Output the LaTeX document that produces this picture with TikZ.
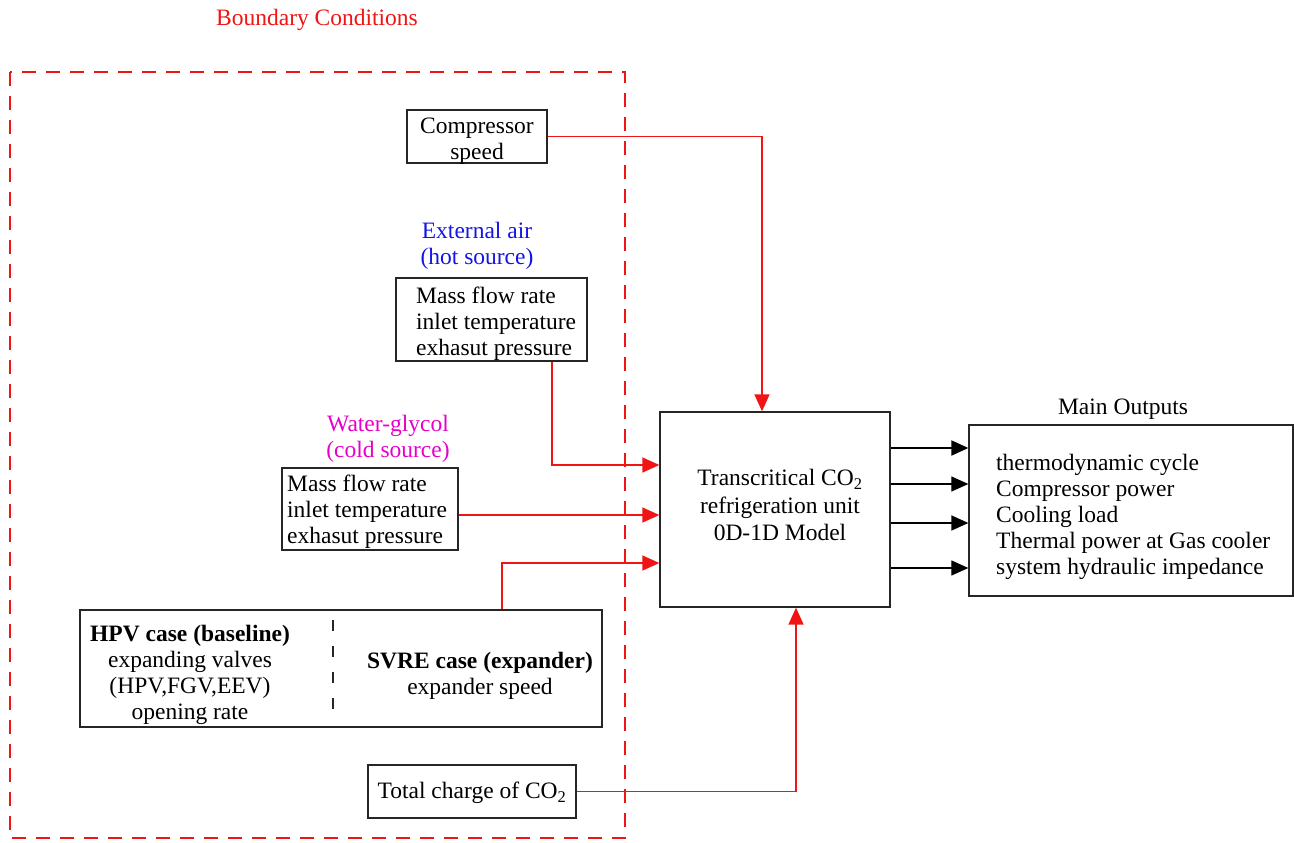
\documentclass[tikz,border=0pt]{standalone}
\usepackage{fontspec}
\setmainfont{Liberation Serif}
\usetikzlibrary{arrows.meta}
\definecolor{bred}{RGB}{240,20,20}
\definecolor{bblue}{RGB}{20,20,230}
\definecolor{bmag}{RGB}{230,0,200}
\tikzset{
  box/.style={draw=black!85, line width=1.3pt, inner sep=0pt},
  txt/.style={inner sep=0pt, align=center, font=\fontsize{23.5}{26}\selectfont},
  ltxt/.style={inner sep=0pt, align=left, font=\fontsize{23.5}{26}\selectfont},
  redarrow/.style={draw=bred, line width=1.5pt, -{Triangle[length=17pt,width=15pt]}},
  blkarrow/.style={draw=black, line width=1.2pt, -{Triangle[length=17pt,width=15pt]}},
}
\begin{document}
\begin{tikzpicture}[x=1pt,y=-1pt, font=\fontsize{23.5}{26}\selectfont]
\useasboundingbox (0,0) rectangle (1294,843);
% boundary
\node[txt, text=bred] (bctitle) at (317,20) {Boundary Conditions};
\draw[bred, line width=1.8pt, dash pattern=on 14pt off 10pt] (10,72) rectangle (625,838);
% boxes
\node[box, minimum width=140pt, minimum height=53pt] (comp) at (477,136.5) {};
\node[txt] (comptxt) at (477,141) {Compressor\\speed};
\node[txt, text=bblue] (airlab) at (477,246) {External air\\(hot source)};
\node[box, minimum width=191pt, minimum height=83pt] (air) at (491.5,319.5) {};
\node[ltxt, anchor=west] (airtxt) at (416,324) {Mass flow rate\\inlet temperature\\exhasut pressure};
\node[txt, text=bmag] (wglab) at (388,438.5) {Water-glycol\\(cold source)};
\node[box, minimum width=176pt, minimum height=82pt] (water) at (370,509) {};
\node[ltxt, anchor=west] (watertxt) at (287,512) {Mass flow rate\\inlet temperature\\exhasut pressure};
\node[box, minimum width=230pt, minimum height=195pt] (main) at (775,509.5) {};
\node[txt, font=\fontsize{23.5}{27.5}\selectfont] (maintxt) at (780,505) {Transcritical CO\textsubscript{2}\\refrigeration unit\\0D-1D Model};
\node[box, minimum width=522pt, minimum height=117pt] (hpv) at (341,668.5) {};
\node[txt] (hpvtxt) at (190,675) {\textbf{HPV case (baseline)}\\expanding valves\\(HPV,FGV,EEV)\\opening rate};
\node[txt] (svretxt) at (480,675.5) {\textbf{SVRE case (expander)}\\expander speed};
\coordinate (sepA) at (333,620);
\coordinate (sepB) at (333,720);
\draw[black!85, line width=1.3pt, dash pattern=on 11pt off 15pt] (sepA) -- (sepB);
\node[box, minimum width=208pt, minimum height=53pt] (total) at (472,791.5) {};
\node[txt] (totaltxt) at (472,793) {Total charge of CO\textsubscript{2}};
\node[box, minimum width=324pt, minimum height=171pt] (out) at (1131,510.5) {};
\node[ltxt, anchor=west] (outtxt) at (996,517) {thermodynamic cycle\\Compressor power\\Cooling load\\Thermal power at Gas cooler\\system hydraulic impedance};
\node[txt] (outlab) at (1123,409) {Main Outputs};
% red connectors
\draw[redarrow] (comp.east) -| ([xshift=-13pt]main.north);
\draw[redarrow] ([xshift=60.5pt]air.south) |- ([yshift=44.5pt]main.west);
\draw[redarrow] ([yshift=-6pt]water.east) -- ([yshift=-6pt]main.west |- water.east);
\draw[redarrow] ([xshift=161pt]hpv.north) |- ([yshift=-53.5pt]main.west);
\draw[redarrow] (total.east) -| ([xshift=21pt]main.south);
% outputs
\draw[blkarrow, line width=2pt] ([yshift=61.5pt]main.east) -- ([yshift=61.5pt]main.east -| out.west);
\draw[blkarrow] ([yshift=25.5pt]main.east) -- ([yshift=25.5pt]main.east -| out.west);
\draw[blkarrow, line width=1.5pt] ([yshift=-13.5pt]main.east) -- ([yshift=-13.5pt]main.east -| out.west);
\draw[blkarrow] ([yshift=-58.5pt]main.east) -- ([yshift=-58.5pt]main.east -| out.west);
\end{tikzpicture}
\end{document}
